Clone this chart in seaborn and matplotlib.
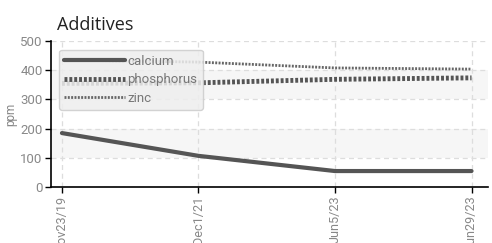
import matplotlib
matplotlib.use("Agg")
import matplotlib.pyplot as plt
import seaborn as sns
import pandas as pd

dates = ["Nov23/19", "Dec1/21", "Jun5/23", "Jun29/23"]
calcium = [185, 107, 55, 55]
phosphorus = [355, 357, 369, 374]
zinc = [435, 428, 408, 404]

sns.set_theme(style="white")
plt.rcParams["font.family"] = ["Roboto", "DejaVu Sans"]

fig = plt.figure(figsize=(4.92, 2.43), dpi=100)
ax = fig.add_axes([0.1037, 0.230, 0.888, 0.601])

x = list(range(len(dates)))
# alternating bands
for lo, hi in [(100, 200), (300, 400)]:
    ax.axhspan(lo, hi, color="#f6f6f6", zorder=0, lw=0)

df = pd.DataFrame({"x": x, "calcium": calcium, "phosphorus": phosphorus, "zinc": zinc})
sns.lineplot(data=df, x="x", y="calcium", ax=ax, color="#555555", lw=3, label="calcium", zorder=3)
sns.lineplot(data=df, x="x", y="phosphorus", ax=ax, color="#555555", lw=3.5, label="phosphorus",
             zorder=3).lines[-1].set_dashes((0.6, 0.4))
sns.lineplot(data=df, x="x", y="zinc", ax=ax, color="#666666", lw=2, label="zinc",
             zorder=3).lines[-1].set_dashes((0.7, 0.5))

ax.set_xlim(-0.08, 3.12)
ax.set_ylim(0, 500)
ax.set_yticks([0, 100, 200, 300, 400, 500])
ax.set_xticks(x)
ax.set_xticklabels(dates, rotation=90, color="#888888", fontsize=9.1)
ax.tick_params(axis="y", labelcolor="#888888", labelsize=9.5)
ax.tick_params(axis="both", direction="out", length=4, color="black", width=1, left=True, bottom=True, pad=2)
ax.grid(True, color="#dddddd", linestyle=(0, (4, 3)), lw=0.9)
for s in ["top", "right"]:
    ax.spines[s].set_visible(False)
for s in ["left", "bottom"]:
    ax.spines[s].set_color("black")
    ax.spines[s].set_linewidth(1.2)
ax.set_xlabel("")
ax.set_ylabel("ppm", color="#888888", fontsize=8.5, labelpad=2)
ax.set_title("Additives", loc="left", fontsize=13, color="#222222", pad=8,
             family=["Open Sans", "DejaVu Sans"], x=0.013)

leg = ax.legend(loc="upper left", bbox_to_anchor=(0.018, 0.94), frameon=True, fancybox=True,
                handlelength=4.6, handletextpad=0.2, labelspacing=0.4, fontsize=9.5,
                borderpad=0.4, borderaxespad=0, labelcolor="#777777")
leg.get_frame().set_facecolor("#eeeeee")
leg.get_frame().set_alpha(0.85)
leg.get_frame().set_edgecolor("#cccccc")

fig.savefig("out.png", dpi=100)
